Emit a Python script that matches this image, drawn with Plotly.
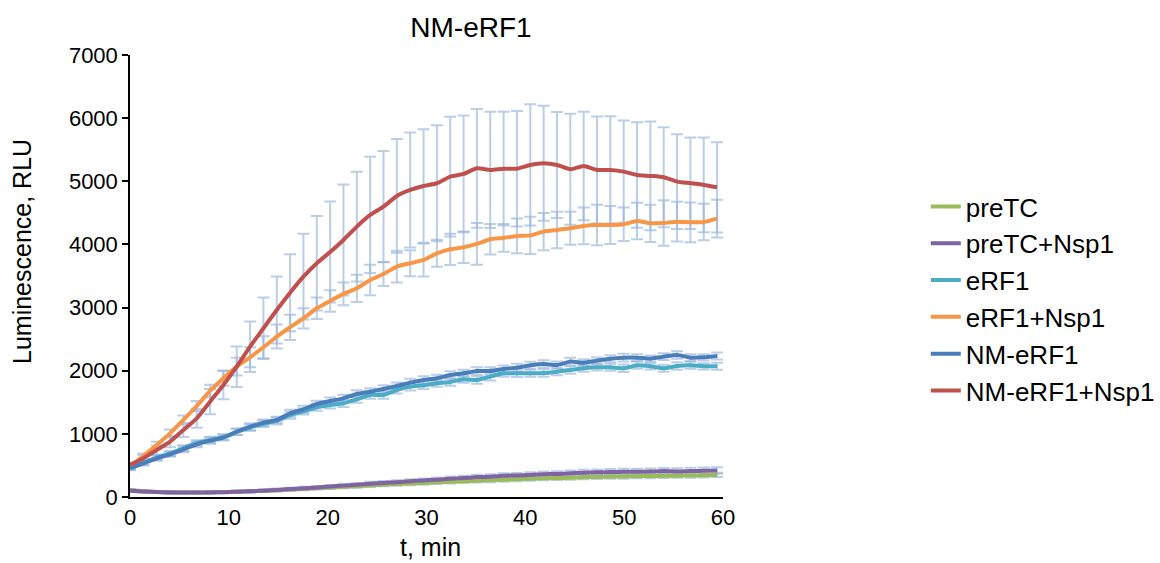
import plotly.graph_objects as go

# time, min (measurement every 81 s)
t = [0.0, 1.35, 2.7, 4.05, 5.4, 6.75, 8.1, 9.45, 10.8, 12.15, 13.5, 14.85, 16.2, 17.55, 18.9,
     20.25, 21.6, 22.95, 24.3, 25.65, 27.0, 28.35, 29.7, 31.05, 32.4, 33.75, 35.1, 36.45, 37.8,
     39.15, 40.5, 41.85, 43.2, 44.55, 45.9, 47.25, 48.6, 49.95, 51.3, 52.65, 54.0, 55.35, 56.7,
     58.05, 59.4]

series_names = ["preTC", "preTC+Nsp1", "eRF1", "eRF1+Nsp1", "NM-eRF1", "NM-eRF1+Nsp1"]
series_colors = ["#9BBB59", "#8064A2", "#4BACC6", "#F79646", "#4A7EBB", "#C0504D"]

preTC = [110, 92, 80, 74, 72, 72, 74, 78, 83, 90, 98, 108, 118, 128, 140, 150, 162, 172, 183,
         195, 205, 213, 222, 232, 240, 250, 258, 265, 272, 280, 288, 295, 300, 305, 312, 318,
         322, 325, 330, 332, 336, 338, 340, 345, 350]
preTC_Nsp1 = [100, 88, 78, 72, 70, 70, 72, 76, 82, 90, 100, 112, 125, 138, 150, 165, 180, 195,
              210, 222, 235, 250, 262, 275, 290, 300, 315, 322, 335, 342, 350, 360, 365, 375,
              385, 390, 395, 400, 398, 402, 410, 405, 412, 415, 420]
eRF1 = [465, 545, 625, 690, 775, 855, 905, 950, 1030, 1100, 1160, 1205, 1295, 1355, 1420, 1457,
        1484, 1547, 1616, 1616, 1695, 1748, 1769, 1801, 1822, 1864, 1853, 1906, 1959, 1959, 1959,
        1964, 1985, 2012, 2038, 2054, 2054, 2038, 2085, 2070, 2038, 2075, 2085, 2070, 2070]
eRF1_Nsp1 = [480, 649, 824, 1008, 1220, 1441, 1679, 1880, 2064, 2213, 2371, 2540, 2688, 2830,
             2989, 3105, 3216, 3305, 3437, 3532, 3649, 3701, 3754, 3860, 3923, 3955, 4008, 4082,
             4103, 4134, 4143, 4203, 4229, 4256, 4293, 4308, 4308, 4319, 4372, 4335, 4340, 4361,
             4350, 4355, 4409]
NM_eRF1 = [454, 533, 613, 676, 755, 834, 892, 940, 1035, 1114, 1177, 1220, 1325, 1389, 1473,
           1520, 1563, 1632, 1668, 1711, 1758, 1811, 1853, 1880, 1932, 1959, 1996, 1996, 2028,
           2049, 2086, 2107, 2091, 2144, 2128, 2160, 2191, 2207, 2207, 2191, 2223, 2249, 2207,
           2212, 2233]
NM_eRF1_Nsp1 = [510, 613, 745, 877, 1061, 1246, 1510, 1774, 2064, 2381, 2672, 2962, 3236, 3490,
                3702, 3880, 4071, 4282, 4467, 4599, 4768, 4863, 4926, 4969, 5074, 5116, 5206,
                5180, 5200, 5200, 5259, 5285, 5259, 5190, 5243, 5180, 5180, 5153, 5100, 5085,
                5064, 4995, 4969, 4942, 4905]

# standard deviations (error bars)
preTC_err = [15, 15, 15, 15, 15, 15, 15, 15, 18, 18, 18, 20, 20, 20, 22, 22, 22, 25, 25, 25,
             25, 25, 28, 28, 28, 28, 30, 30, 30, 30, 30, 30, 32, 32, 32, 32, 32, 35, 35, 35, 35,
             35, 35, 35, 35]
preTC_Nsp1_err = [15, 15, 15, 15, 15, 15, 18, 18, 18, 20, 20, 22, 22, 25, 25, 25, 28, 28, 30,
                  30, 30, 32, 32, 35, 35, 35, 38, 38, 40, 40, 40, 42, 42, 45, 45, 45, 48, 48,
                  50, 50, 50, 50, 52, 52, 52]
eRF1_err = [30, 35, 40, 40, 45, 45, 50, 45, 50, 50, 50, 55, 55, 50, 55, 55, 60, 55, 60, 60, 55,
            60, 60, 55, 60, 55, 60, 60, 55, 60, 55, 60, 55, 60, 55, 50, 55, 60, 55, 50, 55, 60,
            55, 50, 55]
eRF1_Nsp1_err = [30, 40, 50, 60, 70, 80, 100, 120, 140, 160, 175, 190, 200, 160, 170, 170, 180,
                 215, 240, 190, 250, 205, 260, 215, 248, 248, 330, 240, 220, 275, 295, 295, 290,
                 260, 290, 320, 300, 265, 290, 295, 360, 315, 315, 290, 300]
NM_eRF1_err = [30, 35, 40, 40, 45, 45, 50, 45, 50, 55, 50, 50, 55, 55, 50, 55, 55, 60, 55, 60,
               55, 60, 60, 55, 60, 55, 60, 60, 55, 60, 55, 60, 55, 60, 55, 50, 55, 60, 55, 50,
               55, 60, 55, 50, 55]
NM_eRF1_Nsp1_err = [30, 50, 70, 90, 110, 150, 200, 227, 320, 400, 487, 530, 610, 680, 750, 800,
                    880, 870, 920, 880, 900, 910, 900, 920, 950, 925, 940, 920, 900, 915, 960,
                    910, 840, 880, 860, 845, 850, 810, 835, 860, 790, 750, 725, 750, 715]

values = [preTC, preTC_Nsp1, eRF1, eRF1_Nsp1, NM_eRF1, NM_eRF1_Nsp1]
errors = [preTC_err, preTC_Nsp1_err, eRF1_err, eRF1_Nsp1_err, NM_eRF1_err, NM_eRF1_Nsp1_err]

x_ticks = [0, 10, 20, 30, 40, 50, 60]
y_ticks = [0, 1000, 2000, 3000, 4000, 5000, 6000, 7000]

ERR_COLOR = "rgba(150,180,220,0.65)"
FONT = "Liberation Sans, Arial, sans-serif"

fig = go.Figure()

# error bars first (behind lines)
for i, (name, vals, errs) in enumerate(zip(series_names, values, errors)):
    fig.add_trace(go.Scatter(
        x=t, y=vals, mode="markers", marker=dict(size=1, opacity=0),
        error_y=dict(type="data", array=errs, visible=True, color=ERR_COLOR,
                     thickness=2, width=6),
        showlegend=False, hoverinfo="skip", legendgroup="g%d" % i))

for i, (name, vals, col) in enumerate(zip(series_names, values, series_colors)):
    fig.add_trace(go.Scatter(
        x=t, y=vals, mode="lines", name=name, legendgroup="g%d" % i,
        line=dict(color=col, width=4, shape="spline", smoothing=0.6)))

fig.update_layout(
    width=1160, height=563,
    margin=dict(l=130, r=437, t=55, b=66, autoexpand=False),
    paper_bgcolor="white", plot_bgcolor="white",
    font=dict(family=FONT, color="#000000"),
    title=dict(text="NM-eRF1", x=0.575, xref="paper", xanchor="center",
               y=1 - 27 / 563, yref="container", yanchor="middle",
               font=dict(size=28, family=FONT, color="#000000")),
    legend=dict(x=1.342, xanchor="left", y=0.449, yanchor="middle",
                font=dict(size=26, family=FONT, color="#000000"),
                bgcolor="rgba(0,0,0,0)", tracegroupgap=0),
    showlegend=True,
)

fig.update_xaxes(range=[0, 60], tickvals=x_ticks, ticks="", showgrid=False, zeroline=False,
                 showline=True, linecolor="#000000", linewidth=1.5,
                 tickfont=dict(size=22, family=FONT, color="#000000"))
fig.update_yaxes(range=[0, 7000], tickvals=y_ticks, ticks="outside", ticklen=6,
                 tickcolor="#000000", tickwidth=1.5, showgrid=False, zeroline=False,
                 showline=True, linecolor="#000000", linewidth=1.5,
                 tickfont=dict(size=22, family=FONT, color="#000000"))

fig.add_annotation(text="Luminescence, RLU", textangle=-90, xref="paper", yref="paper",
                   x=(22 - 130) / 593, y=(497 - 252) / 442, xanchor="center", yanchor="middle",
                   showarrow=False, font=dict(size=25, family=FONT, color="#000000"))
fig.add_annotation(text="t, min", xref="paper", yref="paper",
                   x=(430 - 130) / 593, y=(497 - 547) / 442, xanchor="center", yanchor="middle",
                   showarrow=False, font=dict(size=25, family=FONT, color="#000000"))

fig.write_html("out.html", config={"displayModeBar": False},
               post_script="document.body.style.margin='0px';document.body.style.overflow='hidden';")
